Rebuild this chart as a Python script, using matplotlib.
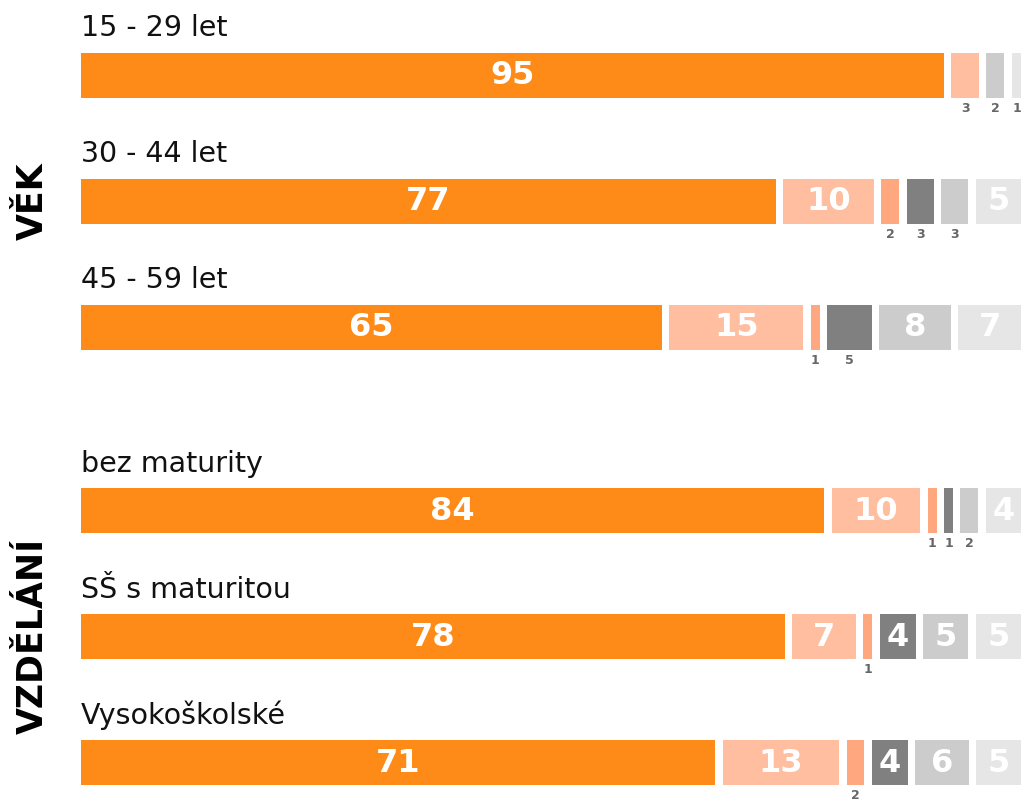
import matplotlib
matplotlib.use("Agg")
import matplotlib.pyplot as plt
import matplotlib.transforms as mtransforms

# ---- data ----
groups = ["VĚK", "VZDĚLÁNÍ"]
row_labels = ["15 - 29 let", "30 - 44 let", "45 - 59 let",
              "bez maturity", "SŠ s maturitou", "Vysokoškolské"]
row_group = [0, 0, 0, 1, 1, 1]
seg1 = [95, 77, 65, 84, 78, 71]
seg2 = [3, 10, 15, 10, 7, 13]
seg3 = [0, 2, 1, 1, 1, 2]
seg4 = [0, 3, 5, 1, 4, 4]
seg5 = [2, 3, 8, 2, 5, 6]
seg6 = [1, 5, 7, 4, 5, 5]
# segments whose value label is printed below the bar (row, segment)
below_labels = {(0, 1), (0, 4), (0, 5), (1, 2), (1, 3), (1, 4),
                (2, 2), (2, 3), (3, 2), (3, 3), (3, 4), (4, 2), (5, 2)}

colors = ["#FE8A17", "#FFBEA0", "#FFA87F", "#808080", "#CCCCCC", "#E6E6E6"]

W, H = 1025, 801
fig = plt.figure(figsize=(W / 100, H / 100), dpi=100)
ax = fig.add_axes([81 / W, 0, 940 / W, 1])
ax.set_xlim(0, 1)
ax.set_ylim(H, 0)
ax.axis("off")

FONT = ["DejaVu Sans"]
bar_h = 45
gap = 7.5 / 940
series = [seg1, seg2, seg3, seg4, seg5, seg6]

# layout: row centres in pixel-like units
centers = []
for i, g in enumerate(row_group):
    idx = row_group[:i].count(g)
    base = 75 if g == 0 else 510
    centers.append(base + 126 * idx)

for r, label in enumerate(row_labels):
    vals = [s[r] for s in series]
    nz = [v for v in vals if v > 0]
    scale = (1 - gap * (len(nz) - 1)) / sum(nz)
    y = centers[r]
    left = 0.0
    ax.text(0, y - bar_h / 2 - 16, label, fontsize=20.5, family=FONT,
            color="#111111", va="baseline", ha="left")
    for k, v in enumerate(vals):
        if v <= 0:
            continue
        w = v * scale
        ax.barh(y, w, left=left, height=bar_h, color=colors[k], linewidth=0)
        cx = left + w / 2
        if (r, k) in below_labels:
            ax.text(cx, y + bar_h / 2 + 11, str(v), fontsize=9,
                    family=FONT, fontweight="bold", color="#666666",
                    ha="center", va="center")
        else:
            ax.text(cx, y + 1, str(v), fontsize=23, family=FONT,
                    fontweight="bold", color="white", ha="center",
                    va="center")
        left += w + gap

trans = mtransforms.blended_transform_factory(fig.transFigure, ax.transData)
for g, name in enumerate(groups):
    rows = [centers[i] for i in range(len(row_group)) if row_group[i] == g]
    yc = rows[len(rows) // 2]
    ax.text(33 / W, yc, name, transform=trans, rotation=90, fontsize=25,
            family=FONT, fontweight="bold", color="black",
            ha="center", va="center")

fig.savefig("out.png", dpi=100, facecolor="white")
